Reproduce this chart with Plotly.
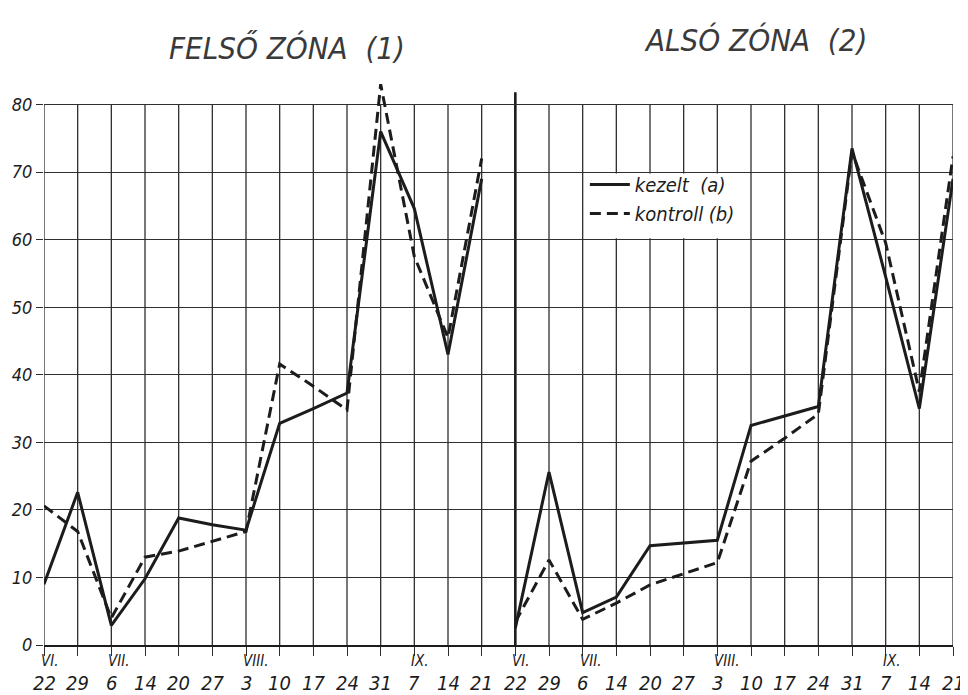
import plotly.graph_objects as go

# ---- data ----
days = ["22", "29", "6", "14", "20", "27", "3", "10", "17", "24", "31", "7", "14", "21"]
months = ["VI.", "", "VII.", "", "", "", "VIII.", "", "", "", "", "IX.", "", ""]

felso_kezelt = [9.0, 22.6, 2.9, 9.8, 18.8, 17.8, 17.0, 32.8, 35.0, 37.3, 76.0, 64.6, 43.0, 69.0]
felso_kontroll = [20.6, 16.8, 4.0, 13.0, 13.9, 15.3, 16.8, 41.6, 38.3, 34.8, 83.0, 57.5, 45.5, 72.0]
also_kezelt = [2.5, 25.6, 4.8, 7.1, 14.7, 15.1, 15.5, 32.5, 33.9, 35.3, 73.5, 54.5, 35.0, 69.0]
also_kontroll = [3.4, 12.6, 3.8, 6.2, 8.9, 10.5, 12.2, 27.2, 30.6, 34.2, 73.0, 59.5, 37.5, 72.3]

zone_titles = ["FELSŐ ZÓNA  (1)", "ALSÓ ZÓNA  (2)"]
series_names = ["kezelt  (a)", "kontroll (b)"]
y_ticks = [0, 10, 20, 30, 40, 50, 60, 70, 80]

# ---- styling ----
INK = "#1c1c1c"
GRID = "#2e2e2e"
FONT = "DejaVu Sans Condensed, DejaVu Sans, sans-serif"

n = len(days)
x_left = list(range(n))
x_right = list(range(n, 2 * n))
all_x = x_left + x_right
all_days = days + days
all_months = months + months

fig = go.Figure()

solid = dict(color=INK, width=3)
dashed = dict(color=INK, width=3, dash="11px,6px")

fig.add_trace(go.Scatter(x=x_left, y=felso_kezelt, mode="lines", line=solid,
                         name=series_names[0], legendgroup="a", showlegend=True))
fig.add_trace(go.Scatter(x=x_left, y=felso_kontroll, mode="lines", line=dashed,
                         name=series_names[1], legendgroup="b", showlegend=True))
fig.add_trace(go.Scatter(x=x_right, y=also_kezelt, mode="lines", line=solid,
                         name=series_names[0], legendgroup="a", showlegend=False))
fig.add_trace(go.Scatter(x=x_right, y=also_kontroll, mode="lines", line=dashed,
                         name=series_names[1], legendgroup="b", showlegend=False))

shapes = []
top_val = y_ticks[-1]
for xi in all_x:
    if xi == n:
        shapes.append(dict(type="line", xref="x", yref="y", x0=xi, x1=xi, y0=0, y1=top_val + 1.8,
                           line=dict(color=INK, width=2.6), layer="below"))
    else:
        shapes.append(dict(type="line", xref="x", yref="y", x0=xi, x1=xi, y0=0, y1=top_val,
                           line=dict(color=GRID, width=1.3), layer="below"))
# white legend box covering grid cells
shapes.append(dict(type="rect", xref="x", yref="y", x0=n + 2 + 0.06, x1=n + 7 - 0.06,
                   y0=60.2, y1=69.8, fillcolor="white", line=dict(width=0), layer="above"))

title_font = dict(family=FONT, size=31, color="#3a3a3a", style="italic")
annotations = [
    dict(text=zone_titles[0], x=0.267, y=1.028, xref="paper", yref="paper", showarrow=False,
         xanchor="center", yanchor="middle", font=title_font),
    dict(text=zone_titles[1], x=0.783, y=1.042, xref="paper", yref="paper", showarrow=False,
         xanchor="center", yanchor="middle", font=title_font),
]
# date labels under the axis (month row and day row)
for xi, d, m in zip(all_x, all_days, all_months):
    annotations.append(dict(text=d, x=xi, y=0, xref="x", yref="y", showarrow=False,
                            xanchor="center", yanchor="middle", yshift=-38,
                            font=dict(family=FONT, size=20, style="italic", color=INK)))
    if m:
        annotations.append(dict(text=m, x=xi, y=0, xref="x", yref="y", showarrow=False,
                                xanchor="left", yanchor="middle", yshift=-16, xshift=-5,
                                font=dict(family=FONT, size=15, style="italic", color=INK)))

# the page body adds an 8px offset, so the figure is 8px smaller than the window
fig.update_layout(
    width=960, height=687,
    margin=dict(l=36, r=15, t=56, b=50),
    paper_bgcolor="white", plot_bgcolor="white",
    shapes=shapes, annotations=annotations,
    font=dict(family=FONT, color=INK),
    legend=dict(x=0.595, y=0.826, xanchor="left", yanchor="top", bgcolor="rgba(0,0,0,0)",
                font=dict(family=FONT, size=20, style="italic", color=INK),
                tracegroupgap=0, itemwidth=40),
    xaxis=dict(range=[0, 2 * n - 1], tickmode="array", tickvals=all_x, showticklabels=False,
               showgrid=False, zeroline=False, showline=True, linecolor=INK, linewidth=2.2,
               ticks="outside", ticklen=9, tickwidth=1.3, tickcolor=GRID, automargin=False),
    yaxis=dict(range=[0, 86], tickmode="array", tickvals=y_ticks,
               showgrid=True, gridcolor=GRID, gridwidth=1.3, zeroline=False, showline=False,
               ticks="outside", ticklen=7, tickwidth=1.3, tickcolor=GRID, automargin=False,
               tickfont=dict(family=FONT, size=18, style="italic", color=INK)),
)

fig.write_html("out.html")
